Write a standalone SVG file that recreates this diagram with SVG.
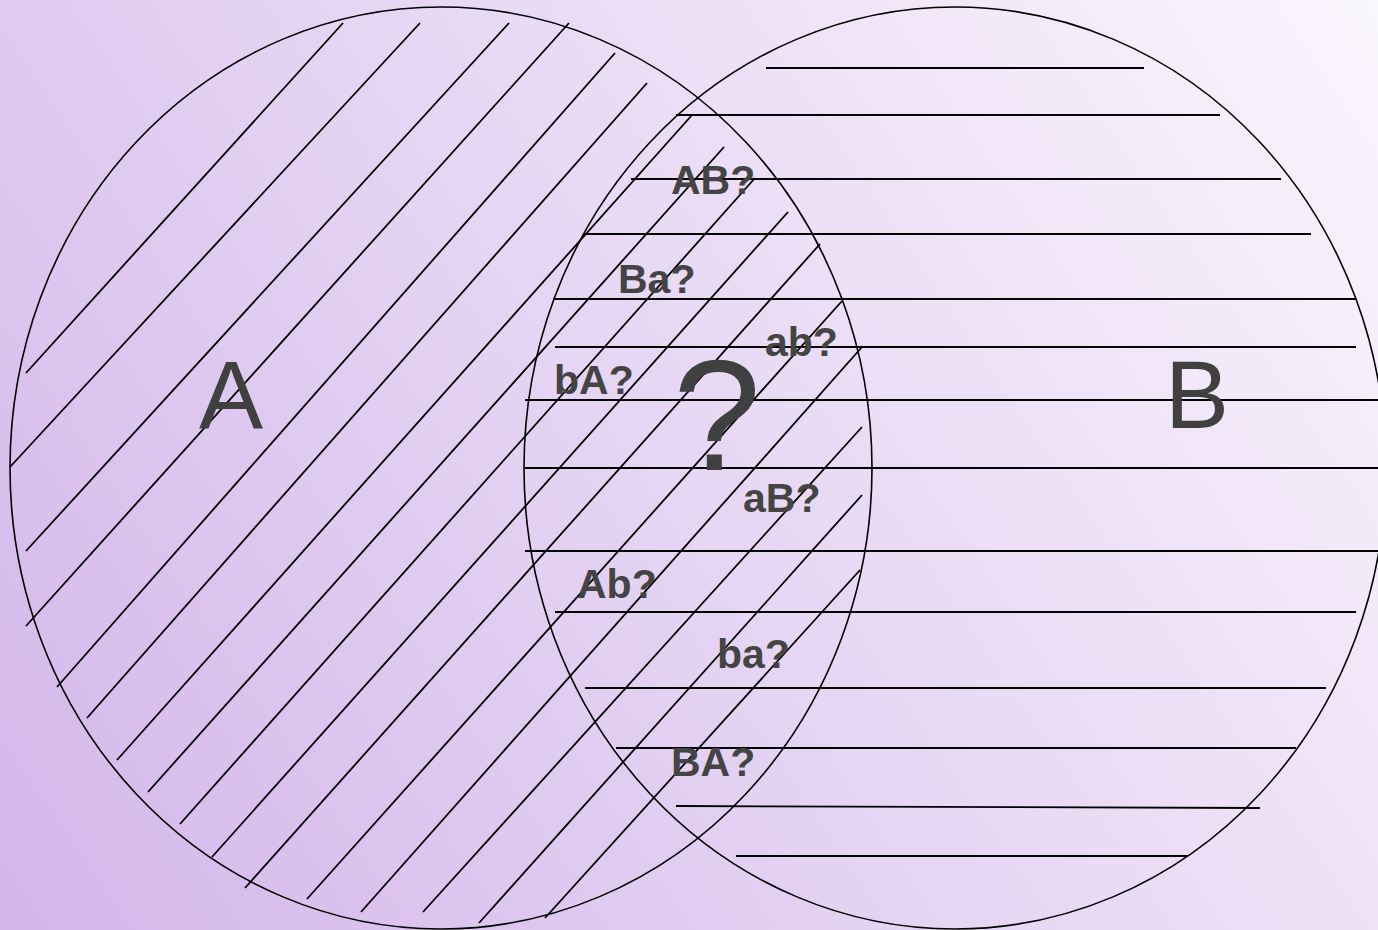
<svg xmlns="http://www.w3.org/2000/svg" width="1378" height="930" viewBox="0 0 1378 930">
  <defs>
    <linearGradient id="bg" gradientUnits="userSpaceOnUse" x1="0" y1="930" x2="1378" y2="0">
      <stop offset="0" stop-color="#d3b6ea"/>
      <stop offset="1" stop-color="#faf6fd"/>
    </linearGradient>
  </defs>
  <style>
    .ring { fill: none; stroke: #000; stroke-width: 1.6; }
    .hatch line { stroke: #000; stroke-width: 1.8; stroke-linecap: butt; }
    .big { font-family: "Liberation Sans", Arial, sans-serif; font-size: 96px; fill: #404040; }
    .q { font-family: "Liberation Sans", Arial, sans-serif; font-size: 158px; fill: #404040; }
    .lbl { font-family: "Liberation Sans", Arial, sans-serif; font-size: 41px; font-weight: bold; fill: #444444; }
  </style>
  <rect x="0" y="0" width="1378" height="930" fill="url(#bg)"/>

  <g id="hatch-A" class="hatch">
    <line x1="26" y1="373" x2="343" y2="23"/>
    <line x1="10" y1="467" x2="420" y2="23"/>
    <line x1="26" y1="551" x2="509" y2="23"/>
    <line x1="26" y1="626" x2="569" y2="23"/>
    <line x1="57" y1="687" x2="615" y2="53"/>
    <line x1="87" y1="718" x2="647" y2="83"/>
    <line x1="117" y1="760" x2="692" y2="115"/>
    <line x1="148" y1="792" x2="724" y2="147"/>
    <line x1="180" y1="824" x2="755" y2="178"/>
    <line x1="212" y1="857" x2="788" y2="212"/>
    <line x1="245" y1="888" x2="820" y2="244"/>
    <line x1="307" y1="899" x2="842" y2="301"/>
    <line x1="361" y1="912" x2="862" y2="347"/>
    <line x1="423" y1="912" x2="862" y2="427"/>
    <line x1="479" y1="923" x2="862" y2="495"/>
    <line x1="545" y1="918" x2="860" y2="570"/>
  </g>

  <g id="hatch-B" class="hatch">
    <line x1="766" y1="68" x2="1144" y2="68"/>
    <line x1="676" y1="115" x2="1220" y2="115"/>
    <line x1="631" y1="179" x2="1281" y2="179"/>
    <line x1="584" y1="234" x2="1311" y2="234"/>
    <line x1="553" y1="299" x2="1356" y2="299"/>
    <line x1="555" y1="347" x2="1356" y2="347"/>
    <line x1="525" y1="400" x2="1378" y2="400"/>
    <line x1="525" y1="468" x2="1378" y2="468"/>
    <line x1="525" y1="551" x2="1378" y2="551"/>
    <line x1="555" y1="612" x2="1356" y2="612"/>
    <line x1="585" y1="688" x2="1326" y2="688"/>
    <line x1="616" y1="748" x2="1296" y2="748"/>
    <line x1="676" y1="806" x2="1260" y2="808"/>
    <line x1="736" y1="856" x2="1188" y2="856"/>
  </g>

  <g id="set-A">
    <ellipse class="ring" cx="441" cy="468" rx="431" ry="461"/>
    <text class="big" x="231" y="428" text-anchor="middle">A</text>
  </g>
  <g id="set-B">
    <ellipse class="ring" cx="955" cy="468" rx="431" ry="461"/>
    <text class="big" x="1197" y="428" text-anchor="middle">B</text>
  </g>

  <g id="intersection">
    <text class="q" x="717" y="470" text-anchor="middle">?</text>
    <text class="lbl" x="671" y="194">AB?</text>
    <text class="lbl" x="618" y="293">Ba?</text>
    <text class="lbl" x="765" y="356">ab?</text>
    <text class="lbl" x="554" y="394">bA?</text>
    <text class="lbl" x="743" y="512">aB?</text>
    <text class="lbl" x="577" y="598">Ab?</text>
    <text class="lbl" x="717" y="668">ba?</text>
    <text class="lbl" x="671" y="776">BA?</text>
  </g>
</svg>
